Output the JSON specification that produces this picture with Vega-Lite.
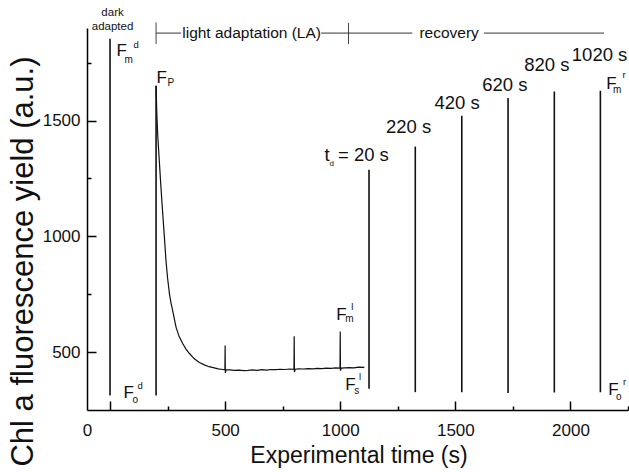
{
  "$schema": "https://vega.github.io/schema/vega-lite/v6.json",
  "autosize": "none",
  "width": 541,
  "height": 382,
  "padding": {"left": 87, "top": 28, "right": 1, "bottom": 62},
  "config": {
    "view": {"stroke": null},
    "font": "Liberation Sans",
    "axis": {"grid": false, "domainColor": "#000", "domainWidth": 1.5, "tickColor": "#000", "tickWidth": 1.5, "labelColor": "#111", "titleColor": "#111", "labelFont": "Liberation Sans", "titleFont": "Liberation Sans", "titleFontWeight": "normal", "labelFontSize": 17}
  },
  "resolve": {"axis": {"x": "independent", "y": "independent"}},
  "encoding": {
    "x": {"field": "t", "type": "quantitative", "scale": {"domain": [-100, 2250], "nice": false, "zero": false}, "axis": null},
    "y": {"field": "v", "type": "quantitative", "scale": {"domain": [250, 1900], "nice": false, "zero": false}, "axis": null}
  },
  "layer": [
    {
      "data": {"values": [
        {"t": 200, "v": 1651}, {"t": 203, "v": 1540}, {"t": 207, "v": 1440}, {"t": 214, "v": 1327},
        {"t": 221, "v": 1215}, {"t": 228, "v": 1112}, {"t": 236, "v": 1000}, {"t": 243, "v": 896},
        {"t": 250, "v": 820}, {"t": 258, "v": 753}, {"t": 265, "v": 712}, {"t": 272, "v": 680},
        {"t": 280, "v": 640}, {"t": 287, "v": 607}, {"t": 300, "v": 568}, {"t": 315, "v": 538},
        {"t": 330, "v": 513}, {"t": 345, "v": 494}, {"t": 365, "v": 472}, {"t": 388, "v": 455},
        {"t": 410, "v": 445}, {"t": 430, "v": 437}, {"t": 444, "v": 434}, {"t": 470, "v": 428},
        {"t": 490, "v": 425}, {"t": 499, "v": 424}, {"t": 500, "v": 529}, {"t": 501, "v": 410},
        {"t": 504, "v": 424}, {"t": 520, "v": 423}, {"t": 540, "v": 421}, {"t": 560, "v": 422},
        {"t": 580, "v": 420}, {"t": 600, "v": 421}, {"t": 620, "v": 423}, {"t": 640, "v": 421},
        {"t": 660, "v": 424}, {"t": 680, "v": 422}, {"t": 700, "v": 425}, {"t": 720, "v": 424},
        {"t": 740, "v": 426}, {"t": 760, "v": 425}, {"t": 780, "v": 427}, {"t": 799, "v": 426},
        {"t": 800, "v": 568}, {"t": 801, "v": 414}, {"t": 804, "v": 426}, {"t": 820, "v": 428},
        {"t": 840, "v": 427}, {"t": 860, "v": 429}, {"t": 880, "v": 428}, {"t": 900, "v": 430},
        {"t": 920, "v": 429}, {"t": 940, "v": 431}, {"t": 960, "v": 430}, {"t": 980, "v": 432},
        {"t": 999, "v": 431}, {"t": 1000, "v": 589}, {"t": 1001, "v": 420}, {"t": 1004, "v": 431},
        {"t": 1020, "v": 432}, {"t": 1040, "v": 433}, {"t": 1060, "v": 432}, {"t": 1080, "v": 435},
        {"t": 1100, "v": 434}, {"t": 1105, "v": 436}
      ]},
      "mark": {"type": "line", "color": "#111", "strokeWidth": 1.2},
      "encoding": {
        "x": {
          "field": "t", "type": "quantitative",
          "scale": {"domain": [-100, 2250], "nice": false, "zero": false},
          "axis": {
            "orient": "bottom",
            "values": [0, 500, 1000, 1500, 2000],
            "format": "d",
            "ticks": false,
            "labelOffset": {"condition": {"test": "datum.value == 0", "value": -23}, "value": 0},
            "labelPadding": 12,
            "labelFlush": false,
            "labelOverlap": false,
            "title": "Experimental time (s)",
            "titleFontSize": 23,
            "titleX": 271.5,
            "titleY": 52,
            "titleAlign": "center",
            "titleBaseline": "alphabetic"
          }
        },
        "y": {
          "field": "v", "type": "quantitative",
          "scale": {"domain": [250, 1900], "nice": false, "zero": false},
          "axis": {
            "orient": "left",
            "values": [500, 1000, 1500],
            "format": "d",
            "ticks": false,
            "labelPadding": 7,
            "labelOverlap": false,
            "title": "Chl a fluorescence yield (a.u.)",
            "titleFontSize": 31,
            "titleAngle": 270,
            "titleX": -64,
            "titleY": 233,
            "titleAlign": "center",
            "titleBaseline": "middle"
          }
        }
      }
    },
    {
      "data": {"values": [
        {"t": 0, "v": 313, "v2": 1854},
        {"t": 200, "v": 313, "v2": 1651},
        {"t": 1125, "v": 342, "v2": 1288},
        {"t": 1326, "v": 327, "v2": 1388},
        {"t": 1528, "v": 327, "v2": 1521},
        {"t": 1729, "v": 323, "v2": 1598},
        {"t": 1930, "v": 326, "v2": 1626},
        {"t": 2130, "v": 327, "v2": 1629}
      ]},
      "mark": {"type": "rule", "color": "#111", "strokeWidth": 1.6},
      "encoding": {
        "x": {
          "field": "t", "type": "quantitative",
          "scale": {"domain": [-100, 2250], "nice": false, "zero": false},
          "axis": {
            "orient": "top",
            "offset": -382,
            "values": [0, 250, 500, 750, 1000, 1250, 1500, 1750, 2000, 2250],
            "tickSize": {"condition": {"test": "datum.value == 0 || datum.value == 500 || datum.value == 1000 || datum.value == 1500 || datum.value == 2000", "value": 9}, "value": 4},
            "labels": false, "domain": false, "title": null
          }
        },
        "y": {
          "field": "v", "type": "quantitative",
          "scale": {"domain": [250, 1900], "nice": false, "zero": false},
          "axis": {
            "orient": "right",
            "offset": -541,
            "values": [500, 750, 1000, 1250, 1500, 1750],
            "tickSize": {"condition": {"test": "datum.value == 500 || datum.value == 1000 || datum.value == 1500", "value": 9}, "value": 4},
            "labels": false, "domain": false, "title": null
          }
        },
        "y2": {"field": "v2"}
      }
    },
    {
      "data": {"values": [
        {"t": 200, "v": 1831, "v2": 1924},
        {"t": 1036, "v": 1831, "v2": 1922}
      ]},
      "mark": {"type": "rule", "color": "#444", "strokeWidth": 1},
      "encoding": {"y2": {"field": "v2"}}
    },
    {
      "data": {"values": [
        {"t": 200, "t2": 309, "v": 1878},
        {"t": 917, "t2": 1313, "v": 1878},
        {"t": 1625, "t2": 2146, "v": 1878}
      ]},
      "mark": {"type": "rule", "color": "#333", "strokeWidth": 1},
      "encoding": {"x2": {"field": "t2"}}
    },
    {
      "data": {"values": [
        {"t": 28.6, "v": 1781, "text": "F"}, {"t": 201.8, "v": 1664, "text": "F"},
        {"t": 58.6, "v": 300, "text": "F"}, {"t": 983, "v": 637, "text": "F"},
        {"t": 1022, "v": 335, "text": "F"}, {"t": 2155, "v": 1637, "text": "F"},
        {"t": 2164, "v": 313, "text": "F"}
      ]},
      "mark": {"type": "text", "align": "left", "baseline": "alphabetic", "fontSize": 17, "color": "#111"},
      "encoding": {"text": {"field": "text"}}
    },
    {
      "data": {"values": [
        {"t": 62.9, "v": 1750, "text": "m"}, {"t": 249.6, "v": 1651, "text": "P"},
        {"t": 97.7, "v": 279, "text": "o"}, {"t": 1022, "v": 628, "text": "m"},
        {"t": 1061, "v": 318, "text": "s"}, {"t": 2185, "v": 1621, "text": "m"},
        {"t": 2198, "v": 292, "text": "o"}
      ]},
      "mark": {"type": "text", "align": "left", "baseline": "alphabetic", "fontSize": 10, "color": "#111"},
      "encoding": {"text": {"field": "text"}}
    },
    {
      "data": {"values": [
        {"t": 102, "v": 1815, "text": "d"}, {"t": 119.4, "v": 339, "text": "d"},
        {"t": 1048, "v": 680, "text": "l"}, {"t": 1081, "v": 378, "text": "l"},
        {"t": 2226, "v": 1683, "text": "r"}, {"t": 2228, "v": 358, "text": "r"}
      ]},
      "mark": {"type": "text", "align": "left", "baseline": "alphabetic", "fontSize": 9.5, "color": "#111"},
      "encoding": {"text": {"field": "text"}}
    },
    {
      "data": {"values": [
        {"t": 953, "v": 1306, "text": "d"}
      ]},
      "mark": {"type": "text", "align": "left", "baseline": "alphabetic", "fontSize": 8, "color": "#111"},
      "encoding": {"text": {"field": "text"}}
    },
    {
      "data": {"values": [
        {"t": 932, "v": 1327, "text": "t"}, {"t": 990, "v": 1327, "text": "= 20 s"},
        {"t": 1199, "v": 1448, "text": "220 s"}, {"t": 1409, "v": 1550, "text": "420 s"},
        {"t": 1617, "v": 1630, "text": "620 s"}, {"t": 1799, "v": 1716, "text": "820 s"},
        {"t": 2006, "v": 1759, "text": "1020 s"}
      ]},
      "mark": {"type": "text", "align": "left", "baseline": "alphabetic", "fontSize": 18.5, "color": "#111"},
      "encoding": {"text": {"field": "text"}}
    },
    {
      "data": {"values": [
        {"t": 11, "v": 1953, "text": "dark"}, {"t": 11, "v": 1893, "text": "adapted"}
      ]},
      "mark": {"type": "text", "align": "center", "baseline": "alphabetic", "fontSize": 11.5, "color": "#111"},
      "encoding": {"text": {"field": "text"}}
    },
    {
      "data": {"values": [
        {"t": 615, "v": 1857, "text": "light adaptation (LA)"}, {"t": 1473, "v": 1857, "text": "recovery"}
      ]},
      "mark": {"type": "text", "align": "center", "baseline": "alphabetic", "fontSize": 15.5, "color": "#111"},
      "encoding": {"text": {"field": "text"}}
    }
  ]
}
